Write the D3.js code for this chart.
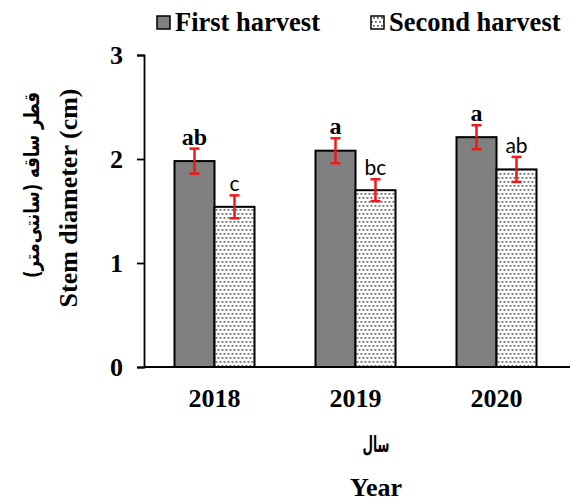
<!DOCTYPE html>
<html>
<head>
<meta charset="utf-8">
<script src="https://cdn.jsdelivr.net/npm/d3@7"></script>
<style>
  html, body { margin: 0; padding: 0; background: #fff; }
  svg { display: block; }
</style>
</head>
<body>
<svg id="chart" width="571" height="501"></svg>
<script>
// Stem diameter by year, two harvests, mean ± error with significance letters
const years = ["2018", "2019", "2020"];
const series = ["First harvest", "Second harvest"];
const firstHarvest = [1.98, 2.08, 2.21];
const secondHarvest = [1.54, 1.70, 1.90];
const firstErr = [0.12, 0.12, 0.115];
const secondErr = [0.11, 0.105, 0.12];
const firstLetters = ["ab", "a", "a"];
const secondLetters = ["c", "bc", "ab"];
const yTicks = [0, 1, 2, 3];

const serif = "'Liberation Serif', 'Times New Roman', serif";
const arabic = "'DejaVu Sans', 'Noto Sans', sans-serif";
const letterSans = "Lato, 'Open Sans', sans-serif";

const svg = d3.select("#chart");

const margin = { left: 144, right: 4, top: 55, bottom: 134 };
const W = 571, H = 501;

const y = d3.scaleLinear().domain([0, 3]).range([H - margin.bottom, margin.top]);
const x0 = d3.scaleBand().domain(years)
  .range([margin.left, 567])
  .paddingInner(0.4326).paddingOuter(0.2163);
const x1 = d3.scaleBand().domain(series).range([0, x0.bandwidth()]);

// dotted fill for the second harvest
const defs = svg.append("defs");
const pat = defs.append("pattern")
  .attr("id", "dots").attr("patternUnits", "userSpaceOnUse")
  .attr("width", 4).attr("height", 8);
pat.append("rect").attr("width", 4).attr("height", 8).attr("fill", "#fff");
[[1, 1], [3, 5], [-1, 5]].forEach(([px, py]) => {
  pat.append("rect").attr("x", px).attr("y", py)
    .attr("width", 1.8).attr("height", 1.8).attr("fill", "#666");
});

const fills = { "First harvest": "#808080", "Second harvest": "url(#dots)" };

const rows = years.map((yr, i) => ({
  year: yr,
  items: [
    { s: series[0], v: firstHarvest[i], e: firstErr[i], l: firstLetters[i] },
    { s: series[1], v: secondHarvest[i], e: secondErr[i], l: secondLetters[i] }
  ]
}));

// bars
const groups = svg.append("g").selectAll("g").data(rows).join("g")
  .attr("transform", d => `translate(${x0(d.year)},0)`);

groups.selectAll("rect").data(d => d.items).join("rect")
  .attr("x", d => x1(d.s))
  .attr("y", d => y(d.v))
  .attr("width", x1.bandwidth())
  .attr("height", d => y(0) - y(d.v))
  .attr("fill", d => fills[d.s])
  .attr("stroke", "#000")
  .attr("stroke-width", 2);

// error bars
const eb = groups.selectAll("g.err").data(d => d.items).join("g").attr("class", "err")
  .attr("stroke", "#f01818").attr("stroke-width", 2.5);
eb.append("line")
  .attr("x1", d => x1(d.s) + x1.bandwidth() / 2)
  .attr("x2", d => x1(d.s) + x1.bandwidth() / 2)
  .attr("y1", d => y(d.v + d.e)).attr("y2", d => y(d.v - d.e));
eb.append("line")
  .attr("x1", d => x1(d.s) + x1.bandwidth() / 2 - 5)
  .attr("x2", d => x1(d.s) + x1.bandwidth() / 2 + 5)
  .attr("y1", d => y(d.v + d.e)).attr("y2", d => y(d.v + d.e));
eb.append("line")
  .attr("x1", d => x1(d.s) + x1.bandwidth() / 2 - 5)
  .attr("x2", d => x1(d.s) + x1.bandwidth() / 2 + 5)
  .attr("y1", d => y(d.v - d.e)).attr("y2", d => y(d.v - d.e));

// significance letters
groups.selectAll("text.sig").data(d => d.items).join("text").attr("class", "sig")
  .attr("x", d => x1(d.s) + x1.bandwidth() / 2)
  .attr("y", d => y(d.v + d.e) - 4)
  .attr("text-anchor", "middle")
  .attr("font-family", d => d.s === series[0] ? serif : letterSans)
  .attr("font-weight", d => d.s === series[0] ? "bold" : "normal")
  .attr("font-size", d => d.s === series[0] ? 24 : 21)
  .attr("fill", "#000")
  .text(d => d.l);

// y axis
const yAxis = svg.append("g")
  .attr("transform", `translate(${margin.left},0)`)
  .call(d3.axisLeft(y).tickValues(yTicks).tickFormat(d3.format("d")).tickSize(7).tickPadding(14));
yAxis.select(".domain").attr("stroke", "#000").attr("stroke-width", 1.8);
yAxis.selectAll(".tick line").attr("stroke", "#000").attr("stroke-width", 1.8);
yAxis.selectAll(".tick text")
  .attr("font-family", serif).attr("font-weight", "bold").attr("font-size", 26).attr("fill", "#000");

// x axis
const xAxis = svg.append("g")
  .attr("transform", `translate(0,${y(0)})`)
  .call(d3.axisBottom(x0).tickSize(0).tickPadding(22));
xAxis.select(".domain").attr("d", `M${margin.left},0H570`).attr("stroke", "#000").attr("stroke-width", 1.8);
xAxis.selectAll(".tick text")
  .attr("font-family", serif).attr("font-weight", "bold").attr("font-size", 26).attr("fill", "#000");

// axis titles
svg.append("text")
  .attr("x", 376).attr("y", 452)
  .attr("text-anchor", "middle")
  .attr("font-family", arabic).attr("font-weight", "bold").attr("font-size", 22)
  .attr("textLength", 27).attr("lengthAdjust", "spacingAndGlyphs")
  .text("سال");
svg.append("text")
  .attr("x", 376).attr("y", 496)
  .attr("text-anchor", "middle")
  .attr("font-family", serif).attr("font-weight", "bold").attr("font-size", 26)
  .text("Year");

svg.append("text")
  .attr("transform", "translate(39,185) rotate(-90)")
  .attr("text-anchor", "middle")
  .attr("font-family", arabic).attr("font-weight", "bold").attr("font-size", 21)
  .attr("textLength", 186).attr("lengthAdjust", "spacingAndGlyphs")
  .attr("direction", "rtl")
  .text("قطر ساقه (سانتی‌متر)");
svg.append("text")
  .attr("transform", "translate(77,198) rotate(-90)")
  .attr("text-anchor", "middle")
  .attr("font-family", serif).attr("font-weight", "bold").attr("font-size", 26)
  .text("Stem diameter (cm)");

// legend
const legendPos = [{ sx: 157, tx: 175 }, { sx: 371, tx: 389 }];
const legend = svg.append("g").selectAll("g").data(series).join("g");
legend.append("rect")
  .attr("x", (d, i) => legendPos[i].sx).attr("y", 16)
  .attr("width", 13).attr("height", 13)
  .attr("fill", d => fills[d]).attr("stroke", "#000").attr("stroke-width", 1.5);
legend.append("text")
  .attr("x", (d, i) => legendPos[i].tx).attr("y", 31)
  .attr("font-family", serif).attr("font-weight", "bold").attr("font-size", 26.5)
  .text(d => d);
</script>
</body>
</html>
